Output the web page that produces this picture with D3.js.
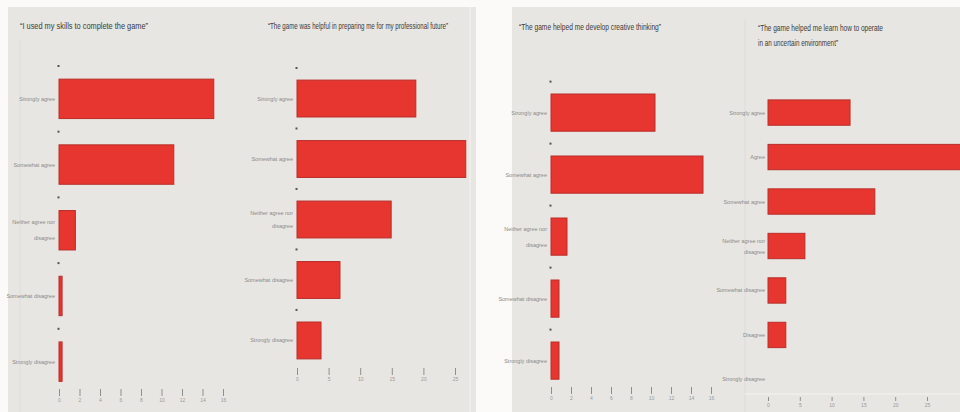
<!DOCTYPE html>
<html><head><meta charset="utf-8">
<script src="https://cdn.jsdelivr.net/npm/d3@7"></script>
<style>
html,body{margin:0;padding:0;background:#fbfaf8;}
svg{display:block;}
text{font-family:"Liberation Sans Narrow","Arial Narrow","Liberation Sans",sans-serif;}
</style></head>
<body>
<svg id="c" width="960" height="412"></svg>
<script>
// ---- data ----
const cats5 = ["Strongly agree","Somewhat agree","Neither agree nor disagree","Somewhat disagree","Strongly disagree"];
const cats7 = ["Strongly agree","Agree","Somewhat agree","Neither agree nor disagree","Somewhat disagree","Disagree","Strongly disagree"];

const titles1 = ["“I used my skills to complete the game”"];
const titles2 = ["“The game was helpful in preparing me for my professional future”"];
const titles3 = ["“The game helped me develop creative thinking”"];
const titles4 = ["“The game helped me learn how to operate","in an uncertain environment”"];

const values1 = [15.1, 11.2, 1.6, 0.3, 0.3];
const values2 = [18.8, 26.7, 14.9, 6.8, 3.8];
const values3 = [10.4, 15.2, 1.6, 0.8, 0.8];
const values4 = [12.9, 30.5, 16.8, 5.8, 2.8, 2.8, 0];

const ticks1 = [0,2,4,6,8,10,12,14,16];
const ticks2 = [0,5,10,15,20,25];
const ticks3 = [0,2,4,6,8,10,12,14,16];
const ticks4 = [0,5,10,15,20,25];

// ---- layout ----
const svg = d3.select("#c");
const bg = "#e8e6e2";
svg.append("rect").attr("x",0).attr("y",0).attr("width",960).attr("height",412).attr("fill","#fbfaf8");
// left panel
svg.append("rect").attr("x",8).attr("y",7).attr("width",468).attr("height",405).attr("fill",bg);
svg.append("line").attr("x1",470).attr("x2",470).attr("y1",7).attr("y2",412).attr("stroke","#efedea").attr("stroke-width",2);
svg.append("line").attr("x1",20).attr("x2",20).attr("y1",40).attr("y2",412).attr("stroke","#dedcd8").attr("stroke-width",1);
// right panel
svg.append("rect").attr("x",512).attr("y",7).attr("width",448).attr("height",405).attr("fill",bg);
svg.append("line").attr("x1",745).attr("x2",745).attr("y1",20).attr("y2",412).attr("stroke","#dedcd8").attr("stroke-width",1);
svg.append("line").attr("x1",745).attr("x2",960).attr("y1",394).attr("y2",394).attr("stroke","#f1efec").attr("stroke-width",1.5);

function chart(cfg){
  const g = svg.append("g");
  // title
  cfg.title.forEach((t,i)=>{
    g.append("text").attr("x",cfg.tx).attr("y",cfg.ty + i*15)
      .attr("font-size",9).attr("fill","#3a3a3a")
      .attr("textLength",cfg.tw[i]).attr("lengthAdjust","spacingAndGlyphs")
      .text(t);
  });
  const x = d3.scaleLinear().domain(cfg.domain).range(cfg.xr);
  const y = d3.scaleBand().domain(cfg.cats).range(cfg.yr).paddingInner(cfg.pi).paddingOuter(0.2);
  // small markers at band boundaries
  if(cfg.dots){
    cfg.cats.forEach((c,i)=>{
      g.append("rect").attr("x",x(0)-1.5).attr("y",y(c)-y.step()*0.2-1)
        .attr("width",2).attr("height",2).attr("fill","#555");
    });
  }
  // bars
  g.selectAll("rect.bar").data(cfg.values).join("rect").attr("class","bar")
    .attr("x",x(0)).attr("y",(d,i)=>y(cfg.cats[i]))
    .attr("width",d=>Math.max(0,x(d)-x(0))).attr("height",y.bandwidth())
    .attr("fill","#e7352f").attr("stroke",d=>d>0?"#b92e2a":"none").attr("stroke-width",1);
  // category labels
  cfg.cats.forEach((c,i)=>{
    const cy = y(c)+y.bandwidth()/2;
    let lines = [c];
    if(c.startsWith("Neither")) lines = ["Neither agree nor","disagree"];
    const lh = cfg.lh;
    lines.forEach((l,j)=>{
      g.append("text").attr("x",x(0)-cfg.lgap).attr("y",cy + (j-(lines.length-1)/2)*lh + 2)
        .attr("text-anchor","end").attr("font-size",5.5).attr("fill","#8a8a8a").text(l);
    });
  });
  // axis
  const ax = g.append("g").attr("transform",`translate(0,${cfg.ay})`)
    .call(d3.axisBottom(x).tickValues(cfg.ticks).tickSize(cfg.ts).tickPadding(2));
  ax.select(".domain").remove();
  ax.selectAll(".tick line").attr("stroke","#8f8f8f").attr("stroke-width",1);
  ax.selectAll(".tick text").attr("font-size",5).attr("fill","#9a9a9a")
    .attr("font-family","Liberation Sans Narrow, Arial Narrow, sans-serif");
}

chart({title:titles1, tx:20, ty:29, tw:[128], cats:cats5, values:values1, domain:[0,16], xr:[59,223],
       yr:[66,394.5], pi:0.4, dots:true, ay:389, ts:7, ticks:ticks1, lgap:4, lh:16});
chart({title:titles2, tx:268, ty:29, tw:[180], cats:cats5, values:values2, domain:[0,25], xr:[297,455],
       yr:[68,371], pi:0.39, dots:true, ay:368, ts:7, ticks:ticks2, lgap:4, lh:13});
chart({title:titles3, tx:519, ty:30, tw:[142], cats:cats5, values:values3, domain:[0,16], xr:[551,711],
       yr:[81.6,391.6], pi:0.4, dots:true, ay:387, ts:7, ticks:ticks3, lgap:4, lh:16});
chart({title:titles4, tx:758, ty:31, tw:[125,80], cats:cats7, values:values4, domain:[0,25], xr:[768,927],
       yr:[91,401], pi:0.43, dots:false, ay:397, ts:4, ticks:ticks4, lgap:3, lh:11});
</script>
</body></html>
